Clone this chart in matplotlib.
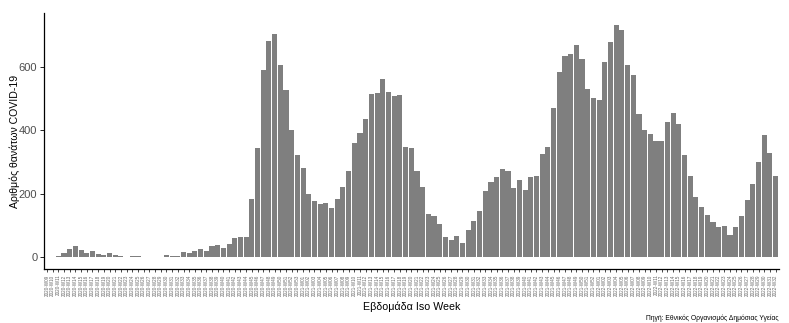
import matplotlib
matplotlib.use('Agg')
import matplotlib.pyplot as plt

# weekly COVID-19 deaths, Greece
years = [2020] * 45 + [2021] * 52 + [2022] * 32
weeks = list(range(9, 54)) + list(range(1, 53)) + list(range(1, 33))
labels = [f"{y}-W{w:02d}" for y, w in zip(years, weeks)]

deaths = [
    0, 0,
    5, 15, 27, 36, 24, 15, 21, 11, 8, 15,
    8, 4, 2, 4, 3, 2, 2, 2, 2, 7,
    4, 4, 16, 14, 19, 26, 20, 35, 38, 28,
    42, 62, 64, 64, 183, 343, 590, 683, 702, 605,
    527, 402, 321, 280, 199, 177, 168, 171, 155, 183,
    221, 271, 361, 393, 436, 515, 518, 561, 521, 508,
    511, 349, 343, 271, 221, 136, 130, 105, 65, 55,
    68, 46, 86, 115, 146, 208, 236, 252, 277, 271,
    218, 243, 211, 252, 255, 327, 349, 471, 583, 633,
    640, 668, 624, 530, 502, 496, 615, 677, 733, 715,
    605, 574, 452, 400, 390, 368, 368, 425, 455, 420,
    322, 255, 190, 160, 133, 110, 97, 100, 70, 97,
    130, 180, 230, 300, 385, 330, 255,
]

plt.rcParams['font.family'] = ['Liberation Sans', 'DejaVu Sans']

fig = plt.figure(figsize=(7.89, 3.23), dpi=100)
ax = fig.add_axes([43.5 / 789, 54 / 323, (779 - 43.5) / 789, 256 / 323])

xs = range(len(deaths))
ax.bar(xs, deaths, width=0.9, color='#7f7f7f')

ax.set_xlim(-0.6, len(deaths) - 0.4)
ymax = max(deaths)
ax.set_ylim(-0.05 * ymax, 1.05 * ymax)

ax.set_xticks(list(xs))
ax.set_xticklabels(labels, rotation=90, fontsize=3.3, color='#666666')
ax.set_yticks([0, 200, 400, 600])
ax.tick_params(axis='y', labelsize=8, labelcolor='#4d4d4d', length=3, width=0.6, pad=1.5)
ax.tick_params(axis='x', length=2.5, width=0.5, pad=1.5)

for s in ['top', 'right']:
    ax.spines[s].set_visible(False)
for s in ['left', 'bottom']:
    ax.spines[s].set_linewidth(0.9)

ax.set_xlabel('Εβδομάδα Iso Week', fontsize=7.7)
ax.xaxis.set_label_coords(0.5, -0.127)
fig.text(14.5 / 789, 1 - 141 / 323, 'Αριθμός θανάτων COVID-19', rotation=90,
         ha='center', va='center', fontsize=7.6)
fig.text(779 / 789, 1 - 318 / 323, 'Πηγή: Εθνικός Οργανισμός Δημόσιας Υγείας',
         ha='right', va='center', fontsize=4.9)

fig.savefig('out.png', dpi=100)
